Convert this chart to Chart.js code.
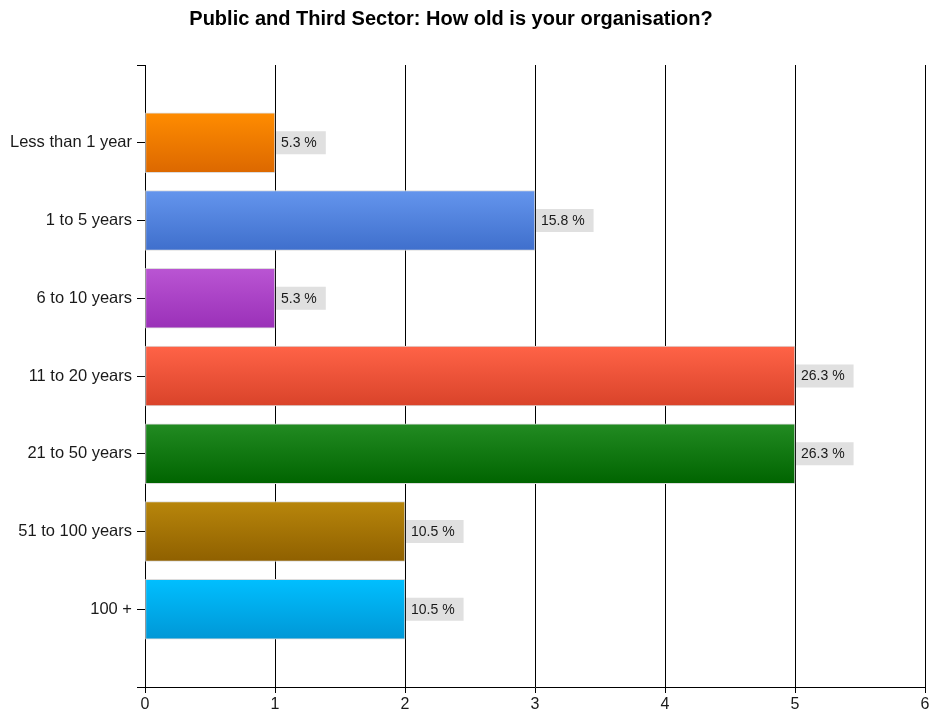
<!DOCTYPE html>
<html>
<head>
<meta charset="utf-8">
<title>How old is your organisation?</title>
<script src="https://cdn.jsdelivr.net/npm/chart.js@4"></script>
<style>
  html, body { margin: 0; padding: 0; background: #fff; }
  canvas { display: block; }
</style>
</head>
<body>
<canvas id="grafico" width="930" height="715"></canvas>
<script>
// ==========================================================
// Public and Third Sector - organisation age survey
// ==========================================================

const titulo = "Public and Third Sector: How old is your organisation?";

// respuestas por categoría
const categorias = [
  "Less than 1 year",
  "1 to 5 years",
  "6 to 10 years",
  "11 to 20 years",
  "21 to 50 years",
  "51 to 100 years",
  "100 +"
];
const respuestas = [1, 3, 1, 5, 5, 2, 2];
const ejeX = { min: 0, max: 6, paso: 1 };

// 🎨 degradado de cada barra (arriba -> abajo)
const colorArriba = ["#ff8c00", "#6495ed", "#ba55d3", "#ff6347", "#228b22", "#b8860b", "#00bfff"];
const colorAbajo  = ["#dc6800", "#3f6fcc", "#9a30b8", "#d9432a", "#006400", "#8f6000", "#0097d6"];

const total = respuestas.reduce((a, b) => a + b, 0);
const porcentajes = respuestas.map(v => (v / total * 100).toFixed(1) + " %");

// hueco vacío arriba y abajo del eje de categorías
const etiquetas = ["", ...categorias, ""];
const valores = [null, ...respuestas, null];
const GROSOR = 60;

const fuente = "'Liberation Sans', Arial, sans-serif";
Chart.defaults.font.family = fuente;
Chart.defaults.color = "#1a1a1a";

// título dibujado a mano
const tituloPlugin = {
  id: "tituloPlugin",
  afterDraw(chart) {
    const ctx = chart.ctx;
    ctx.save();
    ctx.font = "bold 20px " + fuente;
    ctx.fillStyle = "#000";
    ctx.textAlign = "center";
    ctx.textBaseline = "middle";
    ctx.fillText(titulo, 451, 19);
    ctx.restore();
  }
};

// etiqueta gris con el porcentaje al final de cada barra
const etiquetaPlugin = {
  id: "etiquetaPlugin",
  afterDatasetsDraw(chart) {
    const ctx = chart.ctx;
    const meta = chart.getDatasetMeta(0);
    ctx.save();
    ctx.font = "14px " + fuente;
    ctx.textBaseline = "middle";
    meta.data.forEach((bar, i) => {
      if (valores[i] == null) return;
      const txt = porcentajes[i - 1];
      const w = ctx.measureText(txt).width;
      const x = bar.x + 1;
      ctx.fillStyle = "#e0e0e0";
      ctx.fillRect(x, bar.y - 11.5, w + 14, 23);
      ctx.fillStyle = "#1a1a1a";
      ctx.fillText(txt, x + 5, bar.y + 0.5);
    });
    ctx.restore();
  }
};

const ctx = document.getElementById("grafico").getContext("2d");

new Chart(ctx, {
  type: "bar",
  data: {
    labels: etiquetas,
    datasets: [{
      data: valores,
      barThickness: GROSOR,
      borderWidth: 1,
      borderColor: "#dcdcdc",
      borderSkipped: false,
      backgroundColor: c => {
        const i = c.dataIndex - 1;
        if (i < 0 || i >= categorias.length) return "#fff";
        const chart = c.chart;
        if (!chart.chartArea) return colorArriba[i];
        const y = chart.scales.y.getPixelForValue(c.dataIndex);
        const g = chart.ctx.createLinearGradient(0, y - GROSOR / 2, 0, y + GROSOR / 2);
        g.addColorStop(0, colorArriba[i]);
        g.addColorStop(1, colorAbajo[i]);
        return g;
      }
    }]
  },
  options: {
    indexAxis: "y",
    responsive: false,
    animation: false,
    devicePixelRatio: 1,
    layout: { padding: { top: 65, right: 5, bottom: 0, left: 0 } },
    plugins: {
      legend: { display: false },
      title: { display: false },
      tooltip: { enabled: false }
    },
    scales: {
      x: {
        min: ejeX.min,
        max: ejeX.max,
        ticks: { stepSize: ejeX.paso, padding: 2, font: { size: 16 } },
        grid: { color: "#000", lineWidth: 1, tickLength: 6 },
        border: { color: "#000", width: 1 },
        afterFit: s => { s.height = 28; s.paddingRight = 5; }
      },
      y: {
        offset: false,
        ticks: { padding: 5, font: { size: 16.5 }, autoSkip: false },
        grid: { offset: false, drawOnChartArea: false, color: "#000", tickLength: 8 },
        border: { color: "#000", width: 1 },
        afterFit: s => { s.width = 145; }
      }
    }
  },
  plugins: [tituloPlugin, etiquetaPlugin]
});
</script>
</body>
</html>
